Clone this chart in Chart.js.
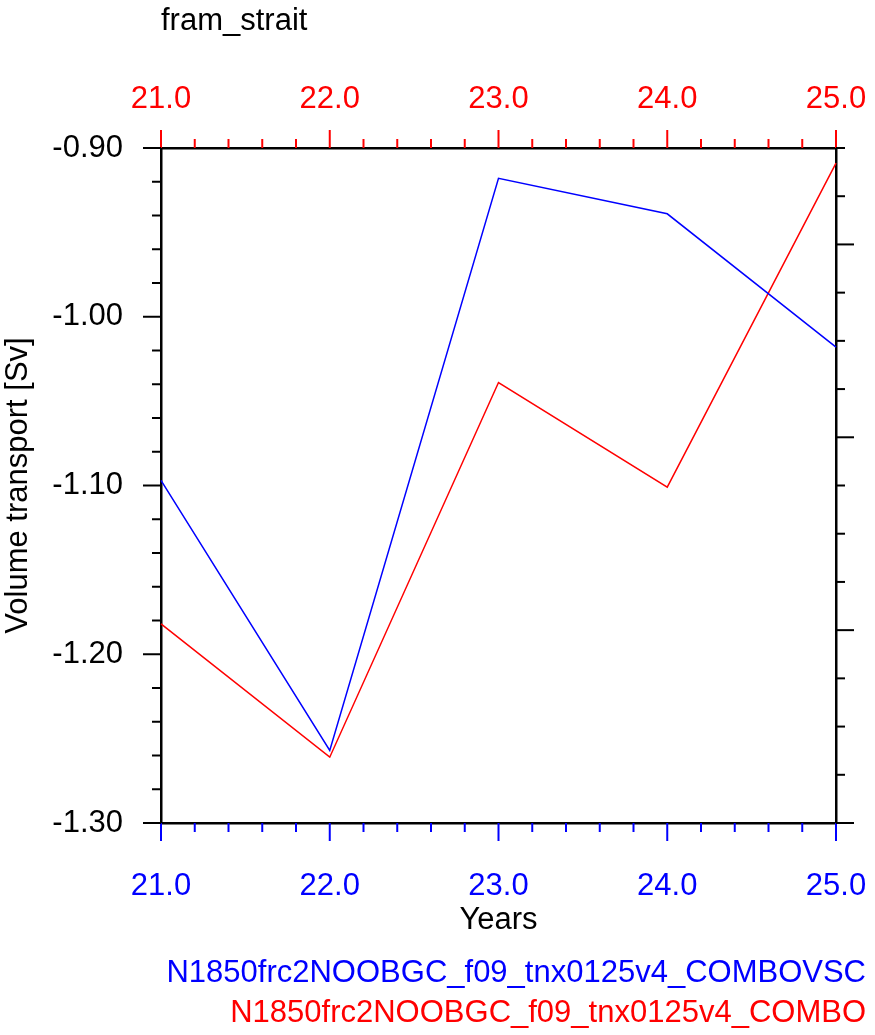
<!DOCTYPE html>
<html>
<head>
<meta charset="utf-8">
<script src="https://cdn.jsdelivr.net/npm/chart.js@4/dist/chart.umd.min.js"></script>
<style>
  body { margin: 0; background: #fff; }
  canvas { display: block; }
</style>
</head>
<body>
<canvas id="myLineChart" width="875" height="1035"></canvas>
<script>
const ctx = document.getElementById("myLineChart");

// data
const years = [21, 22, 23, 24, 25];
const comboVsc = [-1.097, -1.257, -0.918, -0.939, -1.018];
const combo = [-1.182, -1.261, -1.039, -1.101, -0.909];
const seriesNames = ["N1850frc2NOOBGC_f09_tnx0125v4_COMBOVSC", "N1850frc2NOOBGC_f09_tnx0125v4_COMBO"];
const plotTitle = "fram_strait";

const FONT = '"Liberation Sans", Arial, Helvetica, sans-serif';
const FS = 31;
const BOTTOM_PAD = -4; // legend sits a little lower than chart.js puts it
Chart.defaults.font.family = FONT;
Chart.defaults.font.size = FS;
Chart.defaults.color = "#000";

function toXY(xs, ys) {
  return xs.map((x, i) => ({ x: x, y: ys[i] }));
}

// keep the plot box fixed, no extra room for overhanging labels
function fixBox(w, h) {
  return (s) => {
    if (w !== null) s.width = w;
    if (h !== null) s.height = typeof h === "function" ? h(s) : h;
    s.paddingLeft = 0;
    s.paddingRight = 0;
    s.paddingTop = 0;
    s.paddingBottom = 0;
  };
}

// outward ticks, major + minor, drawn from the scales
const tickPlugin = {
  id: "ncTicks",
  afterDraw(chart) {
    const c = chart.ctx;
    const a = chart.chartArea;
    const specs = [
      { id: "x", color: "#0000ff", min: 21, max: 25, major: 1, minor: 0.2 },
      { id: "x2", color: "#ff0000", min: 21, max: 25, major: 1, minor: 0.2 },
      { id: "y", color: "#000", min: -1.3, max: -0.9, major: 0.1, minor: 0.02 },
      { id: "y2", color: "#000", min: -1.3, max: -0.95, major: 0.1, minor: 0.025 },
    ];
    c.save();
    c.lineWidth = 2;
    specs.forEach((s) => {
      const sc = chart.scales[s.id];
      c.strokeStyle = s.color;
      const n = Math.round((s.max - s.min) / s.minor);
      for (let i = 0; i <= n; i++) {
        const v = s.min + i * s.minor;
        const ratio = (v - s.min) / s.major;
        const isMajor = Math.abs(ratio - Math.round(ratio)) < 1e-6;
        const len = isMajor ? 18 : 9;
        const p = sc.getPixelForValue(v);
        c.beginPath();
        if (s.id === "x") { c.moveTo(p, a.bottom); c.lineTo(p, a.bottom + len); }
        if (s.id === "x2") { c.moveTo(p, a.top); c.lineTo(p, a.top - len); }
        if (s.id === "y") { c.moveTo(a.left, p); c.lineTo(a.left - len, p); }
        if (s.id === "y2") { c.moveTo(a.right, p); c.lineTo(a.right + len, p); }
        c.stroke();
      }
    });
    // plot title, top left
    c.fillStyle = "#000";
    c.font = FS + "px " + FONT;
    c.textAlign = "left";
    c.textBaseline = "alphabetic";
    c.fillText(plotTitle, a.left, 30);
    c.restore();
  },
};

const data = {
  datasets: [
    {
      label: seriesNames[0],
      data: toXY(years, comboVsc),
      borderColor: "#0000ff",
      backgroundColor: "#0000ff",
      borderWidth: 1.5,
      pointRadius: 0,
      tension: 0,
      xAxisID: "x",
      yAxisID: "y",
    },
    {
      label: seriesNames[1],
      data: toXY(years, combo),
      borderColor: "#ff0000",
      backgroundColor: "#ff0000",
      borderWidth: 1.5,
      pointRadius: 0,
      tension: 0,
      xAxisID: "x",
      yAxisID: "y",
    },
  ],
};

new Chart(ctx, {
  type: "line",
  data: data,
  plugins: [tickPlugin],
  options: {
    responsive: false,
    animation: false,
    clip: false,
    layout: { padding: { left: 0, right: 0, top: 0, bottom: BOTTOM_PAD } },
    plugins: {
      tooltip: { enabled: false },
      legend: {
        display: true,
        position: "bottom",
        align: "end",
        labels: {
          boxWidth: 0,
          boxHeight: 0,
          padding: 9,
          font: { size: FS },
          generateLabels: (chart) =>
            chart.data.datasets.map((ds, i) => ({
              text: ds.label,
              fontColor: ds.borderColor,
              fillStyle: "rgba(0,0,0,0)",
              strokeStyle: "rgba(0,0,0,0)",
              lineWidth: 0,
              hidden: false,
              datasetIndex: i,
            })),
        },
      },
    },
    scales: {
      x: {
        type: "linear",
        position: "bottom",
        min: 21,
        max: 25,
        afterFit: fixBox(null, (s) => 1035 - BOTTOM_PAD - 823 - s.chart.legend.height),
        ticks: {
          stepSize: 1,
          color: "#0000ff",
          padding: 45,
          maxRotation: 0,
          callback: (v) => Number(v).toFixed(1),
        },
        grid: { drawOnChartArea: false, drawTicks: false },
        border: { display: true, color: "#000", width: 2.5 },
        title: { display: true, text: "Years", color: "#000", padding: { top: 0, bottom: 10 } },
      },
      x2: {
        type: "linear",
        position: "top",
        min: 21,
        max: 25,
        afterFit: fixBox(null, 148),
        ticks: {
          stepSize: 1,
          color: "#ff0000",
          padding: 30,
          maxRotation: 0,
          callback: (v) => Number(v).toFixed(1),
        },
        grid: { drawOnChartArea: false, drawTicks: false },
        border: { display: true, color: "#000", width: 2.5 },
      },
      y: {
        type: "linear",
        position: "left",
        min: -1.3,
        max: -0.9,
        afterFit: fixBox(161, null),
        ticks: {
          stepSize: 0.1,
          color: "#000",
          padding: 38,
          callback: (v) => Number(v).toFixed(2),
        },
        grid: { drawOnChartArea: false, drawTicks: false },
        border: { display: true, color: "#000", width: 2.5 },
        title: { display: true, text: "Volume transport [Sv]", color: "#000", padding: 0 },
      },
      y2: {
        type: "linear",
        position: "right",
        min: -1.3,
        max: -0.95,
        afterFit: fixBox(39, null),
        ticks: { display: false, stepSize: 0.1 },
        grid: { drawOnChartArea: false, drawTicks: false },
        border: { display: true, color: "#000", width: 2.5 },
      },
    },
  },
});
</script>
</body>
</html>
